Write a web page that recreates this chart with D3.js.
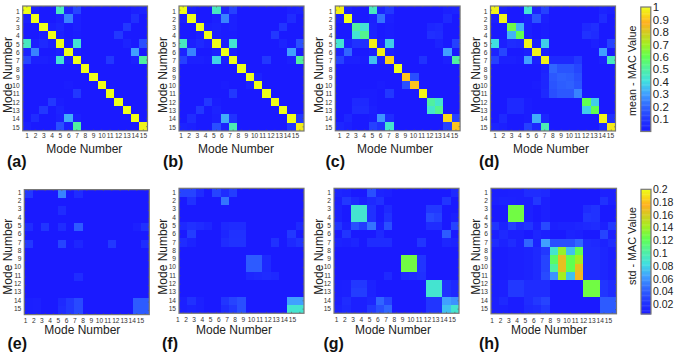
<!DOCTYPE html>
<html>
<head>
<meta charset="utf-8">
<script src="https://cdn.jsdelivr.net/npm/d3@7"></script>
<style>
  html, body { margin: 0; padding: 0; background: #fff; }
  svg { display: block; }
  text { font-family: "Liberation Sans", Arial, sans-serif; }
</style>
</head>
<body>
<script>
const modes = d3.range(1, 16);

// mean MAC values, row = y mode, column = x mode
const meanA = [
  [1,.02,0,0,.45,.03,.13,0,0,0,0,0,0,.02,.03],
  [.02,1,0,0,.02,.25,.02,0,0,0,0,0,0,.07,0],
  [0,0,1,.02,.04,0,.02,0,0,0,0,0,.1,0,0],
  [0,0,.02,1,.02,0,.01,0,0,0,0,.1,0,0,0],
  [.45,.02,.05,.02,1,.02,.42,0,0,0,0,0,.03,0,.15],
  [.03,.25,0,0,.02,1,.02,0,0,0,0,0,0,.3,0],
  [.13,.02,.02,.01,.42,.02,1,0,0,0,.1,0,0,.02,.5],
  [0,0,0,0,0,0,0,1,0,0,0,0,0,0,0],
  [0,0,0,0,0,0,0,0,1,0,0,0,0,0,0],
  [0,0,0,0,0,.01,0,0,0,1,0,0,0,0,0],
  [0,0,0,0,0,0,.1,0,0,0,1,0,0,0,0],
  [0,0,0,.1,.01,0,0,0,0,0,0,1,0,0,0],
  [0,0,.1,0,.03,0,0,0,0,0,0,0,1,0,0],
  [0,.06,0,0,.02,.32,.02,0,0,0,0,0,0,1,0],
  [.02,0,0,0,.15,.02,.5,0,0,0,0,0,0,0,.98]
];
const meanB = [
  [1,.02,0,0,.45,.03,.12,0,0,0,0,0,0,.02,.03],
  [.02,1,0,0,.02,.25,.02,0,0,0,0,0,0,.06,0],
  [0,0,1,.02,.03,.01,.02,0,0,0,0,0,.09,0,0],
  [0,0,.02,1,.02,.01,.01,0,0,0,0,.1,0,0,0],
  [.45,.02,.05,.02,1,.02,.42,0,0,0,0,0,.03,0,.15],
  [.03,.25,0,0,.02,1,.02,0,0,0,0,0,0,.3,0],
  [.12,.02,.02,.01,.38,.02,1,0,0,0,.1,0,0,.02,.5],
  [0,0,0,0,0,0,0,1,0,0,0,0,0,0,0],
  [0,0,0,0,0,0,0,0,1,.03,0,0,0,0,0],
  [0,0,0,0,0,.01,0,0,.03,1,0,0,0,0,0],
  [0,0,0,0,0,0,.1,0,0,0,1,0,0,0,0],
  [0,0,0,.1,.01,0,0,0,0,0,0,1,0,0,0],
  [0,0,.1,0,.03,0,0,0,0,0,0,0,1,0,0],
  [0,.06,0,0,.02,.32,.08,0,0,0,0,0,0,1,.1],
  [.03,.02,0,0,.15,.03,.47,0,0,0,0,0,0,.1,.97]
];
const meanC = [
  [.97,.02,0,0,.45,.03,.1,0,0,0,0,0,0,.02,.03],
  [.02,1,0,0,.02,.22,.02,0,0,0,0,0,0,.05,0],
  [0,0,.5,.42,.03,0,.01,0,0,0,0,.04,.05,0,0],
  [0,0,.42,.52,.03,0,.01,0,0,0,0,.07,.06,0,0],
  [.42,.03,.08,.07,.97,.02,.37,0,0,0,0,0,.03,0,.12],
  [.03,.2,0,0,.02,.97,.02,0,0,0,0,0,0,.3,0],
  [.12,.02,.02,.01,.35,.02,.92,0,0,0,.08,0,0,.02,.5],
  [0,0,0,0,0,0,0,1,0,0,0,0,0,0,0],
  [0,0,0,0,0,0,0,0,.9,.15,0,0,0,0,0],
  [0,0,0,0,0,.01,0,0,.15,.9,0,0,0,0,0],
  [0,0,0,.01,.01,0,.1,0,0,0,.98,0,0,0,0],
  [0,0,.05,.05,.01,0,0,0,0,0,0,.5,.43,0,0],
  [0,0,.06,.06,.02,0,0,0,0,0,0,.43,.52,0,0],
  [0,.04,0,0,.01,.28,.06,0,0,0,0,0,0,.93,.12],
  [.04,.02,0,0,.12,.08,.43,0,0,0,0,0,0,.12,.9]
];
const meanD = [
  [.98,.02,0,0,.42,.03,.12,0,0,0,0,0,0,.03,.02],
  [.02,.98,0,0,.02,.16,.02,0,0,0,0,0,0,.06,0],
  [0,0,.62,.33,.02,0,.01,0,0,0,0,.05,.07,0,0],
  [0,0,.33,.6,.02,0,.01,0,0,0,0,.08,.06,0,0],
  [.4,.02,.06,.05,.98,.02,.37,0,0,0,0,0,.02,0,.12],
  [.03,.13,0,0,.02,.98,.02,0,0,0,0,0,0,.3,0],
  [.12,.02,.02,.01,.3,.02,.98,.05,.05,.05,.1,0,0,.02,.45],
  [0,0,0,0,0,0,.03,.2,.16,.16,.13,0,0,0,0],
  [0,0,0,0,0,0,.04,.17,.19,.18,.15,0,0,0,0],
  [0,0,0,0,0,.01,.04,.16,.18,.19,.16,0,0,0,0],
  [0,0,0,0,0,0,.05,.15,.17,.17,.25,0,0,0,0],
  [0,0,.05,.05,.01,0,0,0,0,0,0,.6,.37,0,0],
  [0,0,.05,.05,.01,0,0,0,0,0,0,.37,.6,0,0],
  [0,.05,0,0,.01,.32,.04,0,0,0,0,0,0,.98,.07],
  [.03,.02,0,0,.12,.04,.47,0,0,0,0,0,0,.06,.96]
];

// std MAC values
const stdE = [
  [.02,0,0,0,.05,0,.012,0,0,0,0,0,0,0,0],
  [0,0,0,0,0,0,0,0,0,0,0,0,0,0,0],
  [0,0,0,0,.012,0,0,0,0,0,0,0,0,0,0],
  [0,0,0,0,0,0,0,0,0,0,0,0,0,0,0],
  [.012,0,.018,0,.012,0,.035,0,0,0,0,0,0,.004,.015],
  [0,0,0,0,0,0,0,0,0,0,0,0,0,0,0],
  [.02,0,0,0,.025,0,.008,0,0,0,.02,0,0,0,.012],
  [0,0,0,0,0,0,0,0,0,0,0,0,0,0,0],
  [0,0,0,0,0,0,0,0,0,0,0,0,0,0,0],
  [0,0,0,0,0,0,0,0,0,0,0,0,0,0,0],
  [0,0,0,0,0,0,.012,0,0,0,0,0,0,0,0],
  [0,0,0,0,0,0,0,0,0,0,0,0,0,0,0],
  [0,0,0,0,0,0,0,0,0,0,0,0,0,0,0],
  [.003,.004,0,0,.01,.02,.028,0,0,0,0,0,0,.035,.035],
  [.003,.004,0,0,.012,.02,.028,0,0,0,0,0,0,.035,.035]
];
const stdF = [
  [.025,.025,.012,0,.025,.012,.022,0,0,0,0,0,0,0,0],
  [0,.015,0,0,0,.045,0,0,0,0,0,0,0,0,0],
  [0,0,0,0,0,0,0,0,0,0,0,0,0,0,0],
  [0,0,0,0,0,0,0,0,0,0,0,0,0,0,0],
  [.01,.015,.012,.008,0,.01,.012,.012,0,0,0,0,0,0,.01],
  [0,.022,0,0,0,.008,.015,.015,0,0,0,0,0,.02,0],
  [.012,.006,0,0,0,.012,.016,.016,0,0,0,.015,0,.01,.016],
  [0,0,0,0,0,0,0,0,0,0,0,0,0,0,0],
  [0,0,0,0,0,0,0,0,.035,.035,.01,0,0,0,0],
  [0,0,0,0,0,0,0,0,.035,.035,.01,0,0,0,0],
  [0,0,0,0,0,0,0,0,.008,.01,.012,.01,0,0,0],
  [0,0,0,0,0,0,0,0,0,0,0,0,0,0,0],
  [0,0,0,0,0,0,0,0,0,0,0,0,0,0,0],
  [.004,.015,.004,0,0,.018,.025,.03,0,0,0,0,0,.06,.06],
  [.004,.006,.004,0,0,.012,.02,.03,0,0,0,0,0,.085,.085]
];
const stdG = [
  [.008,.006,0,0,.03,.006,.004,0,0,0,0,0,0,0,.01],
  [.004,.02,.01,.004,.01,.015,0,0,0,0,0,0,0,.018,0],
  [.005,0,.085,.085,.015,0,.01,0,0,0,0,.02,.02,0,0],
  [.005,0,.085,.085,.015,0,.015,0,0,0,0,.028,.024,0,.004],
  [.018,.004,.03,.022,.045,.004,.03,0,0,0,0,.012,.012,0,.025],
  [0,.018,0,0,0,.01,0,0,0,0,0,0,0,.035,0],
  [.006,.004,.007,0,.012,.012,.012,0,0,0,.018,0,0,.008,.006],
  [0,0,0,0,0,0,0,0,0,0,0,0,0,0,0],
  [0,0,0,0,0,0,0,0,.125,.125,.018,0,0,0,0],
  [0,0,0,0,0,0,0,0,.125,.125,.018,0,0,0,0],
  [0,0,0,0,0,0,.01,0,.01,.012,.015,0,0,0,0],
  [.003,.004,.02,.02,.005,0,0,0,0,0,0,.085,.085,.015,.01],
  [.003,.004,.022,.022,.005,0,0,0,0,0,0,.085,.085,.015,.01],
  [.004,.012,.004,.004,.008,.04,.025,0,0,0,0,.018,.018,.06,.055],
  [.006,.01,.004,.004,.02,.03,.04,0,0,0,0,.018,.018,.07,.085]
];
const stdH = [
  [.003,.003,.004,.004,.012,.012,.01,0,0,0,0,0,0,.004,.004],
  [.004,.006,.005,.004,.004,.02,.004,0,0,0,0,0,0,.015,.004],
  [0,0,.125,.125,.004,0,.004,0,0,0,0,.012,.016,0,0],
  [0,0,.125,.125,.004,0,.004,0,0,0,0,.018,.016,0,0],
  [.018,.006,.022,.012,.018,.004,.028,.004,.006,.006,.008,.01,.012,.004,.02],
  [.004,.01,.004,.004,0,.008,.004,0,0,.006,.004,0,0,.025,.004],
  [.012,.006,.012,.004,.04,.006,.06,.03,.03,.03,.04,.012,.01,.006,.012],
  [.002,.002,.004,.004,.006,.01,.02,.085,.135,.07,.12,.012,.012,.008,.004],
  [.002,.002,.004,.004,.006,.01,.025,.115,.165,.12,.14,.012,.012,.008,.004],
  [.002,.002,.004,.004,.006,.01,.025,.1,.165,.12,.165,.012,.012,.008,.004],
  [.002,.002,.004,.004,.006,.01,.028,.055,.14,.07,.17,.012,.012,.008,.004],
  [.003,.004,.02,.02,.012,.012,.012,0,0,0,0,.125,.125,.018,.012],
  [.003,.004,.02,.02,.012,.012,.012,0,0,0,0,.125,.125,.018,.012],
  [.004,.01,.002,.002,.012,.02,.025,0,0,0,0,0,0,.035,.035],
  [.004,.004,.002,.002,.01,.012,.02,0,0,0,0,0,0,.035,.035]
];

const meanTicks = [.1, .2, .3, .4, .5, .6, .7, .8, .9, 1];
const stdTicks = [.02, .04, .06, .08, .1, .12, .14, .16, .18, .2];

// colormap stops
const cmapStops = [0, .1, .2, .3, .4, .5, .6, .7, .8, .87, .93, 1];
const cmapColors = ['#1a1aff', '#2238ff', '#3066ff', '#40a0ff', '#40e0e0', '#50f0a0',
  '#60ff50', '#a4ee20', '#d8c820', '#ffb020', '#f8d818', '#eeff18'];
const cmap = d3.scaleLinear().domain(cmapStops).range(cmapColors).clamp(true);

const width = 677, height = 355;

let svg = d3.select('body').append('svg')
  .attr('width', width)
  .attr('height', height);

const panels = [
  {name: '(a)', data: meanA, max: 1, x: 22.7, y: 6, size: 124.8, xl: 26.7, xr: 143, yl: 11, yr: 127, tx: 84.3, ty: 152.7, ytx: 12, yty: 75, lx: 7, ly: 167, gap: 2.5},
  {name: '(b)', data: meanB, max: 1, x: 179, y: 6, size: 125, xl: 180.5, xr: 295, yl: 11, yr: 127, tx: 236, ty: 152.7, ytx: 166.5, yty: 75, lx: 163, ly: 167, gap: 2.5},
  {name: '(c)', data: meanC, max: 1, x: 335.3, y: 6, size: 124.8, xl: 339, xr: 454, yl: 11, yr: 127, tx: 395, ty: 152.7, ytx: 323, yty: 75, lx: 325.5, ly: 167, gap: 2.5},
  {name: '(d)', data: meanD, max: 1, x: 490.5, y: 6, size: 125, xl: 494.7, xr: 610, yl: 11, yr: 127, tx: 551, ty: 152.7, ytx: 480, yty: 75, lx: 479, ly: 167, gap: 2.5},
  {name: '(e)', data: stdE, max: .2, x: 24.3, y: 189.6, size: 125, xl: 25, xr: 140, yl: 192.3, yr: 308.3, tx: 82.3, ty: 334, ytx: 12, yty: 256.7, lx: 7.5, ly: 349, gap: 3.5},
  {name: '(f)', data: stdF, max: .2, x: 179, y: 188.3, size: 125, xl: 177.3, xr: 292, yl: 192.3, yr: 308.3, tx: 234, ty: 334, ytx: 167, yty: 256.7, lx: 162, ly: 349, gap: 4.5},
  {name: '(g)', data: stdG, max: .2, x: 334, y: 188.3, size: 125, xl: 336, xr: 451.7, yl: 192.3, yr: 308.3, tx: 393, ty: 334, ytx: 323, yty: 256.7, lx: 323.5, ly: 349, gap: 4.5},
  {name: '(h)', data: stdH, max: .2, x: 491, y: 188.3, size: 125.5, xl: 491.7, xr: 608, yl: 192.3, yr: 308.3, tx: 549, ty: 334, ytx: 480, yty: 256.7, lx: 479, ly: 349, gap: 4.5}
];

panels.forEach(p => {
  let g = svg.append('g');

  let xScale = d3.scaleBand().domain(modes).range([p.x, p.x + p.size]);
  let yScale = d3.scaleBand().domain(modes).range([p.y, p.y + p.size]);

  // Draw cells, crisp so no seams show in the blocks, then soften the whole group
  let rows = g.append('g')
    .style('filter', 'blur(0.35px)')
    .attr('shape-rendering', 'crispEdges');
  rows.append('rect')
    .attr('x', p.x).attr('y', p.y)
    .attr('width', p.size).attr('height', p.size)
    .attr('fill', cmap(0));
  p.data.forEach((row, i) => {
    rows.selectAll(null)
      .data(row.map((v, j) => ({v: v, j: j})).filter(d => d.v > 0))
      .enter()
      .append('rect')
      .attr('x', d => xScale(modes[d.j]))
      .attr('y', yScale(modes[i]))
      .attr('width', xScale.bandwidth())
      .attr('height', yScale.bandwidth())
      .attr('fill', d => cmap(d.v / p.max));
  });

  // Small inside ticks on all four sides
  modes.forEach(m => {
    let cx = xScale(m) + xScale.bandwidth() / 2;
    let cy = yScale(m) + yScale.bandwidth() / 2;
    [[cx, p.y, cx, p.y + 1.5], [cx, p.y + p.size, cx, p.y + p.size - 1.5],
     [p.x, cy, p.x + 1.5, cy], [p.x + p.size, cy, p.x + p.size - 1.5, cy]].forEach(t => {
      g.append('line')
        .attr('x1', t[0]).attr('y1', t[1]).attr('x2', t[2]).attr('y2', t[3])
        .attr('stroke', '#555')
        .attr('stroke-width', .6);
    });
  });

  // Frame
  g.append('rect')
    .attr('x', p.x).attr('y', p.y)
    .attr('width', p.size).attr('height', p.size)
    .attr('fill', 'none')
    .attr('stroke', '#777')
    .attr('stroke-width', 1.2);

  // Tick labels, they sit a bit off the cells in the original
  let xLabels = d3.scalePoint().domain(modes).range([p.xl, p.xr]);
  let yLabels = d3.scalePoint().domain(modes).range([p.yl, p.yr]);

  let xAxis = g.append('g')
    .attr('transform', `translate(0, ${p.y + p.size + p.gap})`)
    .call(d3.axisBottom(xLabels).tickSize(0).tickPadding(0));
  let yAxis = g.append('g')
    .attr('transform', `translate(${p.x - 3}, 0)`)
    .call(d3.axisLeft(yLabels).tickSize(0).tickPadding(0));

  [xAxis, yAxis].forEach(a => {
    a.select('.domain').remove();
    a.selectAll('text')
      .style('font-family', '"Liberation Sans", Arial, sans-serif')
      .style('font-size', '6.6px')
      .attr('fill', '#333');
  });

  // Axis titles
  g.append('text')
    .attr('x', p.tx)
    .attr('y', p.ty)
    .attr('text-anchor', 'middle')
    .style('font-size', '12px')
    .attr('fill', '#222')
    .text('Mode Number');

  g.append('text')
    .attr('transform', `translate(${p.ytx}, ${p.yty}) rotate(-90)`)
    .attr('text-anchor', 'middle')
    .style('font-size', '12px')
    .attr('fill', '#222')
    .text('Mode Number');

  // Panel letter
  g.append('text')
    .attr('x', p.lx)
    .attr('y', p.ly)
    .style('font-size', '16px')
    .style('font-weight', 'bold')
    .attr('fill', '#111')
    .text(p.name);
});

// Colorbars
const bars = [
  {title: 'mean - MAC Value', ticks: meanTicks, max: 1, x: 640.8, y0: 7, y1: 131.5, scaleBottom: 131.5, tx: 636, ty: 70.7, font: 11.5, titleFont: 10.8},
  {title: 'std - MAC Value', ticks: stdTicks, max: .2, x: 641, y0: 189.3, y1: 314, scaleBottom: 317, tx: 636, ty: 246, font: 10.5, titleFont: 10.8}
];

bars.forEach(b => {
  let cScale = d3.scaleLinear().domain([0, b.max]).range([b.scaleBottom, b.y0]);
  let steps = d3.range(0, 100).map(i => i / 100);
  let stepH = (b.y1 - b.y0) / 100;

  svg.append('g').selectAll('rect')
    .data(steps)
    .enter()
    .append('rect')
    .attr('x', b.x)
    .attr('y', (d, i) => b.y1 - (i + 1) * stepH)
    .attr('width', 10)
    .attr('height', stepH + .4)
    .attr('fill', d => cmap(d));

  svg.append('rect')
    .attr('x', b.x).attr('y', b.y0)
    .attr('width', 10).attr('height', b.y1 - b.y0)
    .attr('fill', 'none')
    .attr('stroke', '#777')
    .attr('stroke-width', 1.2);

  let axis = svg.append('g')
    .attr('transform', `translate(${b.x + 10}, 0)`)
    .call(d3.axisRight(cScale).tickValues(b.ticks).tickFormat(d => String(d)).tickSize(0).tickPadding(2));
  axis.select('.domain').remove();
  axis.selectAll('text')
    .style('font-family', '"Liberation Sans", Arial, sans-serif')
    .style('font-size', b.font + 'px')
    .attr('fill', '#222');

  svg.append('text')
    .attr('transform', `translate(${b.tx}, ${b.ty}) rotate(-90)`)
    .attr('text-anchor', 'middle')
    .style('font-size', b.titleFont + 'px')
    .attr('fill', '#222')
    .text(b.title);
});
</script>
</body>
</html>
